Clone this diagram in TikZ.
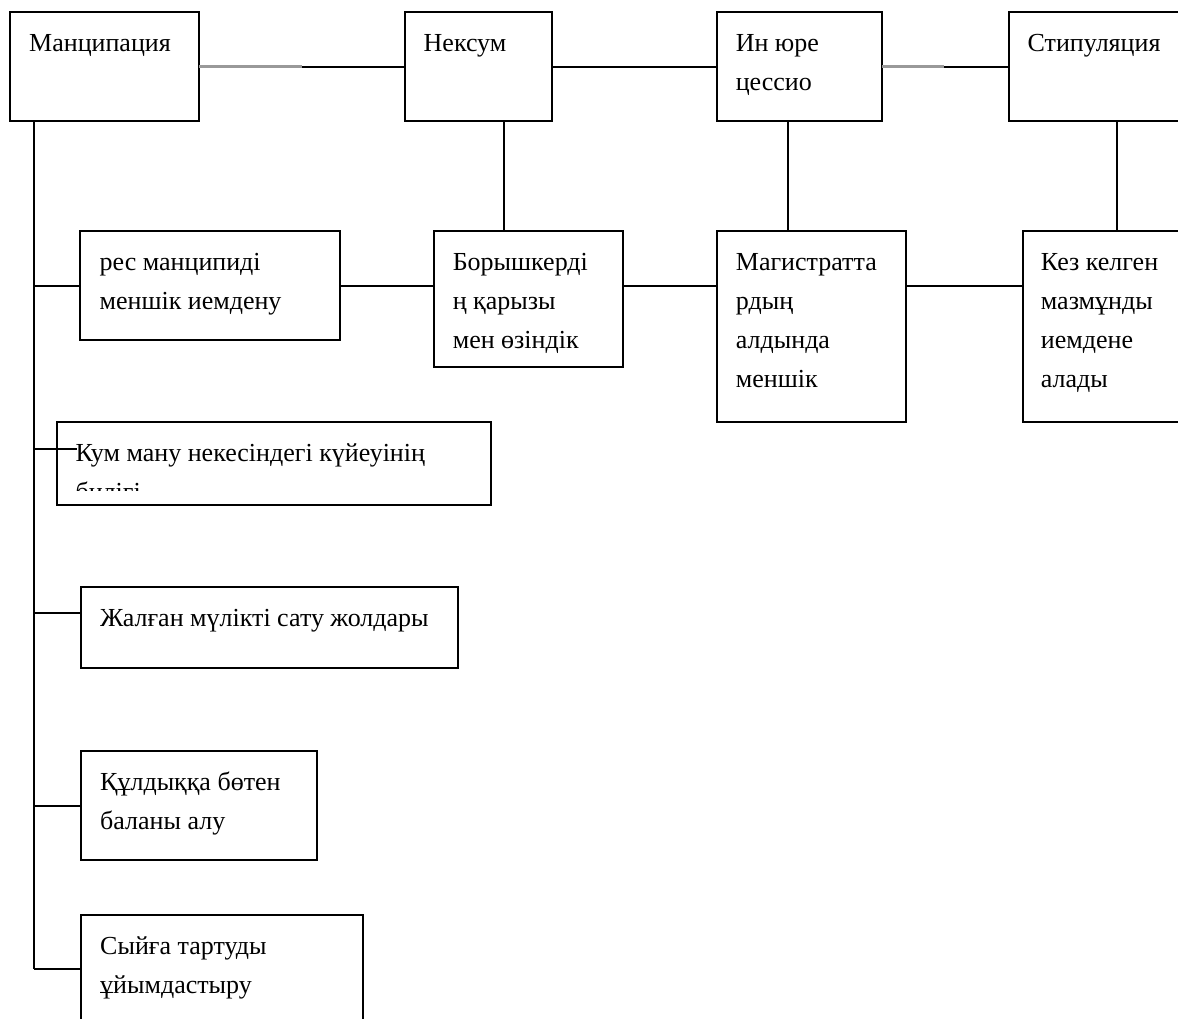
\documentclass[tikz,border=0pt]{standalone}
\usepackage{fontspec}
\setmainfont{Liberation Serif}
\begin{document}
\begin{tikzpicture}[x=1pt,y=-1pt,
  bx/.style={draw, rectangle, line width=2pt, inner sep=0pt, outer sep=0pt, anchor=north west},
  txt/.style={inner sep=0pt, anchor=north west, align=left, xshift=19pt, yshift=-11pt,
              font=\fontsize{26}{39}\selectfont},
  conn/.style={line width=2pt},
  fade/.style={line width=3.2pt, draw=black!40}]
\useasboundingbox (0,0) rectangle (1178,1018);
\clip (0,0) rectangle (1178,1018);
\fill[white] (0,0) rectangle (1178,1018);
% boxes
\node[bx, minimum width=189pt,   minimum height=109pt] (man)  at (10,12) {};
\node[bx, minimum width=147.5pt, minimum height=109pt] (nex)  at (404.5,12) {};
\node[bx, minimum width=165.7pt, minimum height=109pt] (inj)  at (716.6,12) {};
\node[bx, minimum width=200pt,   minimum height=109pt] (sti)  at (1008.5,12) {};
\node[bx, minimum width=259.6pt, minimum height=109pt] (res)  at (80.4,231) {};
\node[bx, minimum width=189.1pt, minimum height=136pt] (bor)  at (433.6,231) {};
\node[bx, minimum width=189.3pt, minimum height=191pt] (mag)  at (716.7,231) {};
\node[bx, minimum width=200pt,   minimum height=191pt] (kez)  at (1022.7,231) {};
\node[bx, minimum width=433.6pt, minimum height=83pt]  (kum)  at (57.4,422) {};
\node[bx, minimum width=377pt,   minimum height=81pt]  (zhal) at (81,587) {};
\node[bx, minimum width=236pt,   minimum height=109pt] (kul)  at (81,751) {};
\node[bx, minimum width=282pt,   minimum height=108pt] (syi)  at (81,915) {};
% texts
\node[txt] (tman) at (man.north west) {\rule{0pt}{28pt}Манципация};
\node[txt] (tnex) at (nex.north west) {\rule{0pt}{28pt}Нексум};
\node[txt] (tinj) at (inj.north west) {\rule{0pt}{28pt}Ин юре\\цессио};
\node[txt] (tsti) at (sti.north west) {\rule{0pt}{28pt}Стипуляция};
\node[txt] (tres) at (res.north west) {\rule{0pt}{28pt}рес манципиді\\меншік иемдену};
\node[txt] (tbor) at (bor.north west) {\rule{0pt}{28pt}Борышкерді\\ң қарызы\\мен өзіндік};
\node[txt] (tmag) at (mag.north west) {\rule{0pt}{28pt}Магистратта\\рдың\\алдында\\меншік};
\node[txt, xshift=-1pt] (tkez) at (kez.north west) {\rule{0pt}{28pt}Кез келген\\мазмұнды\\иемдене\\алады};
\begin{scope}
\clip (57,420) rectangle (491,490);
\node[txt, xshift=-1pt] (tkum) at (kum.north west) {\rule{0pt}{28pt}Кум ману некесіндегі күйеуінің\\билігі};
\end{scope}
\node[txt] (tzhal) at (zhal.north west) {\rule{0pt}{28pt}Жалған мүлікті сату жолдары};
\node[txt] (tkul) at (kul.north west) {\rule{0pt}{28pt}Құлдыққа бөтен\\баланы алу};
\node[txt] (tsyi) at (syi.north west) {\rule{0pt}{28pt}Сыйға тартуды\\ұйымдастыру};
% helper coordinates
\coordinate (sp) at (34,0);
\coordinate (nexd) at (504.4,0);
\coordinate (injd) at (787.8,0);
\coordinate (stid) at (1117,0);
\coordinate (kumc) at (77,449);
\coordinate (zhalc) at (0,613);
% top row connectors
\draw[conn] (man.east) -- (nex.west);
\draw[fade] (man.east) -- ++(103,0);
\draw[conn] (nex.east) -- (inj.west);
\draw[conn] (inj.east) -- (sti.west);
\draw[fade] (inj.east) -- ++(62,0);
% verticals to second row
\draw[conn] (nex.south -| nexd) -- (bor.north -| nexd);
\draw[conn] (inj.south -| injd) -- (mag.north -| injd);
\draw[conn] (sti.south -| stid) -- (kez.north -| stid);
% second row connectors
\draw[conn] (res.east) -- (res.east -| bor.west);
\draw[conn] (bor.east |- res.east) -- (mag.west |- res.east);
\draw[conn] (mag.east |- res.east) -- (kez.west |- res.east);
% spine
\draw[conn] (man.south -| sp) -- (sp |- syi.west);
\draw[conn] (sp |- res.west) -- (res.west);
\draw[conn] (sp |- kumc) -- (kumc);
\draw[conn] (sp |- zhalc) -- (zhal.west |- zhalc);
\draw[conn] (sp |- kul.west) -- (kul.west);
\draw[conn] (sp |- syi.west) -- (syi.west);
\end{tikzpicture}
\end{document}
